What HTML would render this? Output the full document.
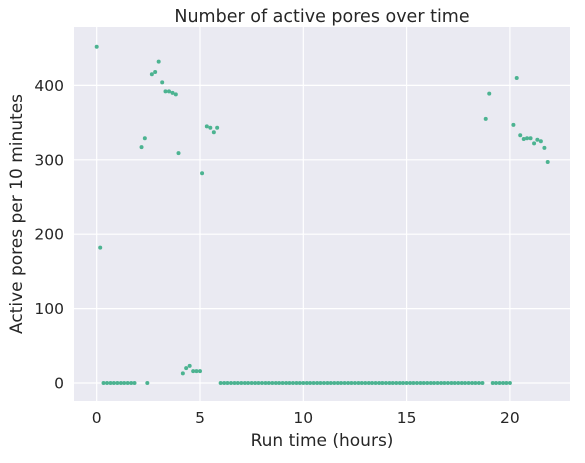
<!DOCTYPE html>
<html><head><meta charset="utf-8">
<style>
body{margin:0;background:#fff;font-family:"Liberation Sans","DejaVu Sans",sans-serif;}
svg text{font-family:"DejaVu Sans","Liberation Sans",sans-serif;fill:#262626;}
</style></head>
<body>
<svg id="chart" width="585" height="458" xmlns="http://www.w3.org/2000/svg">
<rect x="74" y="27" width="496" height="374" fill="#eaeaf2"/>
<g id="grid"></g>
<g id="ticks"></g>
<g id="points"></g>
<text x="322" y="22" font-size="17.5" text-anchor="middle">Number of active pores over time</text>
<text x="322" y="446" font-size="17" text-anchor="middle">Run time (hours)</text>
<text transform="translate(22,214) rotate(-90)" font-size="17" text-anchor="middle">Active pores per 10 minutes</text>
</svg>
<script>
const xTicks=[0,5,10,15,20];
const yTicks=[0,100,200,300,400];
const times=[0,0.17,0.33,0.5,0.67,0.83,1.0,1.17,1.33,1.5,1.67,1.83,2.17,2.33,2.45,2.67,2.83,3.0,3.17,3.33,3.5,3.67,3.83,3.96,4.17,4.33,4.5,4.67,4.83,5.0,5.1,5.33,5.5,5.67,5.83];
const pores=[452,182,0,0,0,0,0,0,0,0,0,0,317,329,0,415,418,432,404,392,392,390,388,309,13,20,23,16,16,16,282,345,343,337,343];
const zeroTimes=[6,6.17,6.33,6.5,6.67,6.83,7,7.17,7.33,7.5,7.67,7.83,8,8.17,8.33,8.5,8.67,8.83,9,9.17,9.33,9.5,9.67,9.83,10,10.17,10.33,10.5,10.67,10.83,11,11.17,11.33,11.5,11.67,11.83,12,12.17,12.33,12.5,12.67,12.83,13,13.17,13.33,13.5,13.67,13.83,14,14.17,14.33,14.5,14.67,14.83,15,15.17,15.33,15.5,15.67,15.83,16,16.17,16.33,16.5,16.67,16.83,17,17.17,17.33,17.5,17.67,17.83,18,18.17,18.33,18.5,18.67];
const lateTimes=[18.83,19.0,19.17,19.33,19.5,19.67,19.83,20.0,20.17,20.33,20.5,20.67,20.83,21.0,21.17,21.33,21.5,21.67,21.83];
const latePores=[355,389,0,0,0,0,0,0,347,410,333,328,329,329,322,327,325,316,297];

const NS="http://www.w3.org/2000/svg";
const xs=v=>96.7+v*20.66;
const ys=v=>383-v*0.744;
const grid=document.getElementById('grid'),tk=document.getElementById('ticks'),pts=document.getElementById('points');
function mk(tag,attrs,parent){const e=document.createElementNS(NS,tag);for(const k in attrs)e.setAttribute(k,attrs[k]);parent.appendChild(e);return e;}
xTicks.forEach(t=>{
  const l=mk('line',{x1:xs(t),x2:xs(t),y1:27,y2:401,stroke:'#fff','stroke-width':1.2},grid);
  
  
  const s=mk('text',{x:xs(t),y:423,'font-size':15.5,'text-anchor':'middle'},tk);s.textContent=t;
  
  
});
yTicks.forEach(t=>{
  const l=mk('line',{x1:74,x2:570,y1:ys(t),y2:ys(t),stroke:'#fff','stroke-width':1.2},grid);
  
  
  const s=mk('text',{x:64,y:ys(t)+5.5,'font-size':15.5,'text-anchor':'end'},tk);s.textContent=t;
  
  
});
const allT=times.concat(zeroTimes,lateTimes);
const allP=pores.concat(zeroTimes.map(()=>0),latePores);
allT.forEach((t,i)=>{
  const c=mk('circle',{cx:xs(t),cy:ys(allP[i]),r:2,fill:'#4cb391'},pts);
  
  
});
</script>
</body></html>
